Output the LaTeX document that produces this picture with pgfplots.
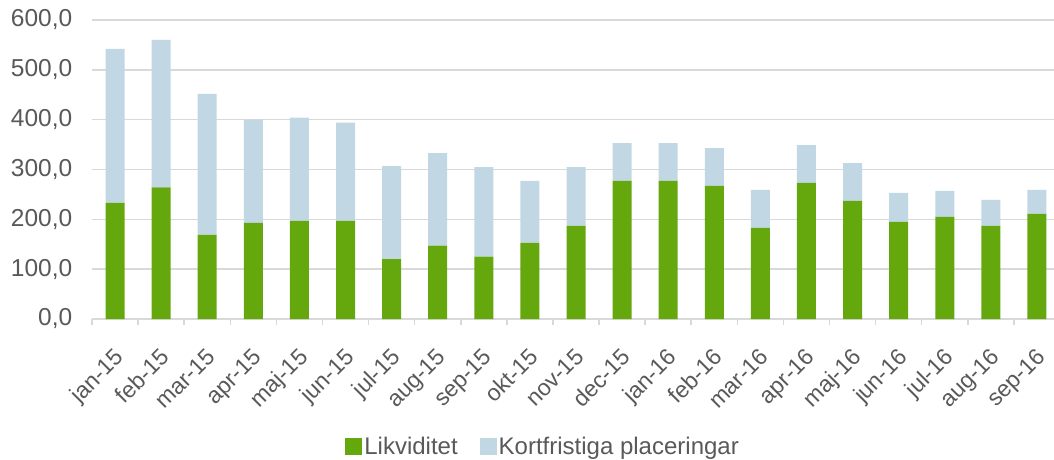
\documentclass[border=0pt]{standalone}
\usepackage{pgfplots}
\pgfplotsset{compat=1.18}
\usepackage{fontspec}
\setmainfont{Liberation Sans}
\definecolor{grn}{HTML}{65A80D}
\definecolor{lblue}{HTML}{C1D7E3}
\definecolor{gridc}{HTML}{D9D9D9}
\definecolor{txt}{HTML}{595959}
\begin{document}
\begin{tikzpicture}
\begin{axis}[
  scale only axis,
  width=968pt, height=299pt,
  ybar stacked, bar width=19pt,
  xmin=-0.5, xmax=20.5, ymin=0, ymax=600,
  ytick={0,100,...,600},
  xtick={0,...,20},
  xticklabels={jan-15,feb-15,mar-15,apr-15,maj-15,jun-15,jul-15,aug-15,sep-15,okt-15,nov-15,dec-15,jan-16,feb-16,mar-16,apr-16,maj-16,jun-16,jul-16,aug-16,sep-16},
  minor xtick={-0.5,0.5,...,20.5},
  major x tick style={draw=none},
  minor x tick style={draw=gridc, line width=1.5pt},
  minor tick length=6pt,
  tick align=outside,
  axis x line*=bottom,
  axis y line*=left,
  y axis line style={draw=none},
  x axis line style={draw=gridc, line width=1.5pt, -},
  ymajorgrids,
  grid style={draw=gridc, line width=1.5pt},
  major y tick style={draw=none},
  /pgf/number format/assume math mode=true,
  yticklabel style={xshift=-12pt, font=\fontsize{24.5}{28}\selectfont, /pgf/number format/fixed, /pgf/number format/fixed zerofill, /pgf/number format/precision=1, /pgf/number format/use comma, /pgf/number format/1000 sep={}},
  ticklabel style={text=txt},
  xticklabel style={font=\fontsize{23}{27}\selectfont, rotate=45, anchor=north east, inner sep=2pt, yshift=-13pt, xshift=-16pt},
  legend style={at={(0.466,-0.425)}, anchor=center, draw=none, legend columns=2,
    font=\fontsize{24}{28}\selectfont, text=txt, /tikz/every even column/.append style={column sep=20pt}},
  legend image code/.code={\fill[#1] (0pt,-8.5pt) rectangle (17pt,8.5pt);},
]
\addplot[fill=grn, draw=none] coordinates {
(0,233) (1,264) (2,169) (3,193) (4,197) (5,197) (6,120) (7,147) (8,125) (9,153) (10,187)
(11,277) (12,277) (13,267) (14,183) (15,273) (16,237) (17,195) (18,205) (19,187) (20,211)};
\addlegendentry{Likviditet}
\addplot[fill=lblue, draw=none] coordinates {
(0,309) (1,296) (2,283) (3,207) (4,207) (5,197) (6,187) (7,186) (8,180) (9,124) (10,118)
(11,76) (12,76) (13,76) (14,76) (15,76) (16,76) (17,58) (18,52) (19,52) (20,48)};
\addlegendentry{Kortfristiga placeringar}
\end{axis}
\pgfresetboundingbox
\path (current axis.south west) ++(-92pt,-141pt) rectangle ++(1054pt,460pt);
\end{tikzpicture}
\end{document}
